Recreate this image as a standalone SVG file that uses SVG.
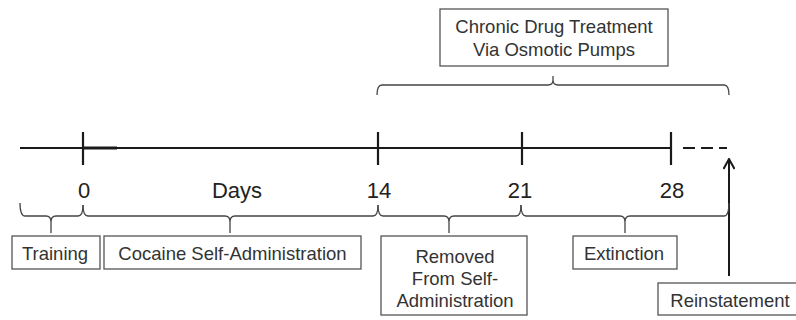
<svg xmlns="http://www.w3.org/2000/svg" width="796" height="320" viewBox="0 0 796 320">
<style>
.box{fill:#fff;stroke:#555;stroke-width:1.3}
.lbl{font-family:"Liberation Sans",Arial,sans-serif;font-size:18.5px;fill:#333;text-anchor:middle}
.num{font-family:"Liberation Sans",Arial,sans-serif;font-size:22px;fill:#222;text-anchor:middle}
.axis{stroke:#1a1a1a;stroke-width:2.2;fill:none}
.brace{stroke:#444;stroke-width:1.3;fill:none}
</style>
<defs>
<marker id="ah" viewBox="0 0 12 12" refX="11" refY="6" markerWidth="12" markerHeight="12" markerUnits="userSpaceOnUse" orient="auto">
<path d="M1,0.5 L11,6 L1,11.5" fill="none" stroke="#1a1a1a" stroke-width="2"/>
</marker>
</defs>
<g id="connectors">
<path class="axis" d="M20 148 H672"/>
<path d="M83 148 H117" stroke="#1a1a1a" stroke-width="3"/>
<path class="axis" d="M83 132 V165 M378 132 V165 M522 132 V165 M671 132 V165"/>
<path class="axis" d="M683 148 H727" stroke-dasharray="12 6"/>
<path d="M729 276 V159" stroke="#1a1a1a" stroke-width="2" fill="none" marker-end="url(#ah)"/>
<path class="brace" d="M20 203 Q20 216 25 216 L46 216 Q51 216 51 222 L51 233 M51 222 Q51 216 56 216 L78 216 Q83 216 83 205"/>
<path class="brace" d="M83 205 Q83 216 88 216 L225 216 Q230 216 230 222 L230 233 M230 222 Q230 216 235 216 L373 216 Q378 216 378 205"/>
<path class="brace" d="M378 205 Q378 216 383 216 L444 216 Q449 216 449 222 L449 233 M449 222 Q449 216 454 216 L516 216 Q521 216 521 205"/>
<path class="brace" d="M521 205 Q521 216 526 216 L620 216 Q625 216 625 222 L625 233 M625 222 Q625 216 630 216 L724 216 Q729 216 729 203"/>
<path class="brace" d="M377 95 Q377 85 382 85 L548 85 Q553 85 553 80 L553 76 M553 80 Q553 85 558 85 L724 85 Q729 85 729 95"/>
</g>
<g id="axis-labels">
<text class="num" x="84" y="198">0</text>
<text class="num" x="237" y="198">Days</text>
<text class="num" x="379" y="198">14</text>
<text class="num" x="520" y="198">21</text>
<text class="num" x="672" y="198">28</text>
</g>
<g id="chronic">
<rect class="box" x="440" y="9" width="228" height="57"/>
<text class="lbl" x="554" y="33">Chronic Drug Treatment</text>
<text class="lbl" x="554" y="55.5">Via Osmotic Pumps</text>
</g>
<g id="training">
<rect class="box" x="12" y="236" width="88" height="33"/>
<text class="lbl" x="55" y="260">Training</text>
</g>
<g id="cocaine">
<rect class="box" x="104" y="236" width="257" height="33"/>
<text class="lbl" x="232.5" y="260">Cocaine Self-Administration</text>
</g>
<g id="removed">
<rect class="box" x="381" y="236" width="146" height="79"/>
<text class="lbl" x="455" y="262.5">Removed</text>
<text class="lbl" x="455" y="284.5">From Self-</text>
<text class="lbl" x="455" y="306.5">Administration</text>
</g>
<g id="extinction">
<rect class="box" x="573" y="236" width="104" height="33"/>
<text class="lbl" x="624" y="260">Extinction</text>
</g>
<g id="reinstatement">
<rect class="box" x="658" y="283" width="145" height="32"/>
<text class="lbl" x="730" y="306.5">Reinstatement</text>
</g>
</svg>
